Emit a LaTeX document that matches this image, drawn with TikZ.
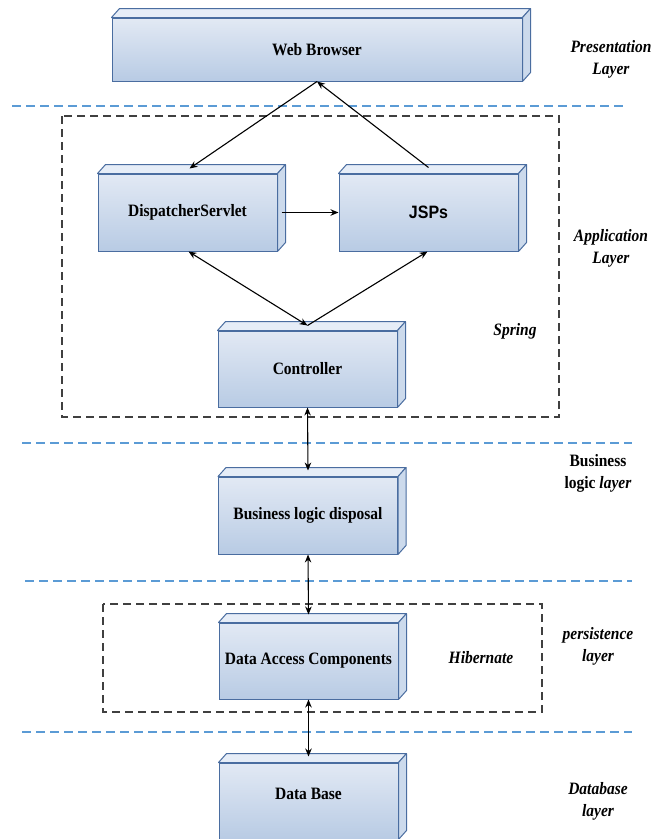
\documentclass[tikz,border=0pt]{standalone}
\usepackage{fontspec}
\usepackage{graphicx}
\setmainfont{Liberation Serif}
\newfontfamily\arialf{Liberation Sans}
\usetikzlibrary{arrows.meta}
\definecolor{boxedge}{HTML}{4A6DA0}
\definecolor{fronttop}{HTML}{E2E9F4}
\definecolor{frontbot}{HTML}{B8CBE4}
\definecolor{topface}{HTML}{E6EDF7}
\definecolor{sideface}{HTML}{CCDAEC}
\definecolor{sepblue}{HTML}{5B9BD5}
\newcommand{\vs}[1]{\scalebox{1}[1.12]{#1}}
\newcommand{\boxfaces}[1]{%
  \filldraw[facestyle, fill=topface] (#1.north west) -- ++(8pt,9pt) -- ([shift={(8pt,9pt)}]#1.north east) -- (#1.north east) -- cycle;
  \filldraw[facestyle, fill=sideface] (#1.north east) -- ++(8pt,9pt) -- ([shift={(8pt,9pt)}]#1.south east) -- (#1.south east) -- cycle;
}
\tikzset{
  cube/.style={draw=boxedge, line width=1pt, top color=fronttop, bottom color=frontbot,
    minimum width=179pt, minimum height=76pt, inner sep=0pt,
    font=\fontsize{15.5}{18}\selectfont\bfseries},
  facestyle/.style={draw=boxedge, line width=1pt, line join=round},
  arr/.style={-{Stealth[length=8pt,width=6.5pt]}, line width=1.1pt},
  darr/.style={{Stealth[length=8pt,width=6.5pt]}-{Stealth[length=8pt,width=6.5pt]}, line width=1.1pt},
  sep/.style={draw=sepblue, line width=1.2pt, dash pattern=on 9pt off 5pt},
  frame/.style={draw=black!75, line width=1.2pt, dash pattern=on 8pt off 5pt},
  lbl/.style={font=\fontsize{15.5}{19.2}\selectfont\bfseries\itshape, inner sep=0pt},
}
\begin{document}
\begin{tikzpicture}[x=1pt, y=-1pt]
\useasboundingbox (0,0) rectangle (651,839);
\fill[white] (0,0) rectangle (651,839);

% separators
\draw[sep] (12,106) -- (625,106);
\draw[sep] (22,443) -- (632,443);
\draw[sep] (25,581) -- (632,581);
\draw[sep] (22,732) -- (632,732);

% frames
\draw[frame] (62,116) rectangle (559,417);
\draw[frame] (103,604) rectangle (542,712);

% boxes
\node[cube, minimum width=410pt, minimum height=63pt] (web) at (317,49.5) {\vs{Web Browser}};
\boxfaces{web}
\node[cube, minimum height=77pt] (disp) at (187.5,212.5) {\vs{DispatcherServlet}};
\boxfaces{disp}
\node[cube, minimum height=77pt, font=\fontsize{16}{18}\selectfont\bfseries\arialf] (jsp) at (428.5,212.5) {\vs{JSPs}};
\boxfaces{jsp}
\node[cube] (ctrl) at (307.5,369) {\vs{Controller}};
\boxfaces{ctrl}
\node[cube, minimum height=77pt] (biz) at (308,515.5) {\vs{Business logic disposal}};
\boxfaces{biz}
\node[cube] (dac) at (308.5,661) {\vs{Data Access Components}};
\boxfaces{dac}
\node[cube] (db) at (308.5,801) {\raisebox{14pt}{\vs{Data Base}}};
\boxfaces{db}

% connectors
\draw[arr] (web.south) -- ([xshift=2pt,yshift=5pt]disp.north);
\draw[arr] ([yshift=6pt]jsp.north) -- (web.south);
\draw[arr] ([xshift=4pt]disp.east) -- (jsp.west);
\draw[darr] ([yshift=5pt]ctrl.north) -- ([xshift=1pt]disp.south);
\draw[arr] ([yshift=5pt]ctrl.north) -- ([xshift=-1pt]jsp.south);
\draw[darr] (ctrl.south) -- ([yshift=6pt]biz.north);
\draw[darr] (biz.south) -- ([yshift=8pt]dac.north);
\draw[darr] (dac.south) -- ([yshift=6pt]db.north);

% labels
\node[lbl] (lpres) at (611,59) {\vs{\begin{tabular}{@{}c@{}}Presentation\\Layer\end{tabular}}};
\node[lbl] (lapp) at (611,248) {\vs{\begin{tabular}{@{}c@{}}Application\\Layer\end{tabular}}};
\node[lbl] (lspring) at (515,331) {\vs{Spring}};
\node[lbl, font=\fontsize{15.5}{19.2}\selectfont\bfseries] (lbiz) at (598,473) {\vs{\begin{tabular}{@{}c@{}}Business\\logic \textit{layer}\end{tabular}}};
\node[lbl] (lpers) at (598,646) {\vs{\begin{tabular}{@{}c@{}}persistence\\layer\end{tabular}}};
\node[lbl] (lhib) at (481,658) {\vs{Hibernate}};
\node[lbl] (ldb) at (598,801) {\vs{\begin{tabular}{@{}c@{}}Database\\layer\end{tabular}}};
\end{tikzpicture}
\end{document}
